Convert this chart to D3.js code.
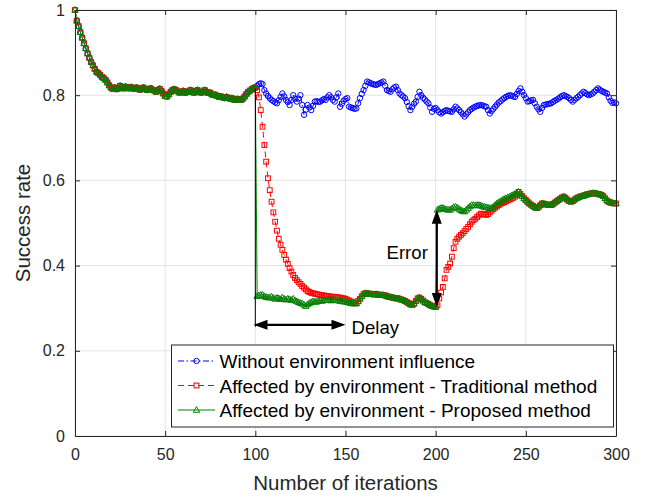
<!DOCTYPE html>
<html>
<head>
<meta charset="utf-8">
<script src="https://cdn.jsdelivr.net/npm/d3@7"></script>
<style>
  html, body { margin: 0; padding: 0; background: #fff; }
  svg { display: block; font-family: "Liberation Sans", Arial, Helvetica, sans-serif; }
</style>
</head>
<body>
<svg id="chart" width="652" height="497"></svg>
<script>
// Success rate over iterations 0..300.
// Iterations 0..100 are shared by all three runs (no disturbance yet).
const sharedStart = [
  1.000, 0.975, 0.962, 0.948, 0.935, 0.922, 0.910, 0.898, 0.888, 0.878,
  0.870, 0.862, 0.855, 0.852, 0.848, 0.843, 0.840, 0.836, 0.830, 0.823,
  0.818, 0.815, 0.818, 0.814, 0.816, 0.822, 0.819, 0.816, 0.820, 0.818,
  0.816, 0.819, 0.817, 0.815, 0.818, 0.816, 0.813, 0.816, 0.818, 0.815,
  0.812, 0.814, 0.816, 0.813, 0.811, 0.808, 0.812, 0.815, 0.810, 0.804,
  0.798, 0.797, 0.802, 0.808, 0.812, 0.814, 0.812, 0.809, 0.806, 0.808,
  0.810, 0.806, 0.807, 0.809, 0.812, 0.808, 0.806, 0.810, 0.812, 0.808,
  0.806, 0.809, 0.812, 0.808, 0.805, 0.806, 0.802, 0.800, 0.801, 0.798,
  0.796, 0.797, 0.795, 0.793, 0.796, 0.794, 0.792, 0.793, 0.790, 0.789,
  0.791, 0.790, 0.789, 0.792, 0.797, 0.803, 0.808, 0.811, 0.814, 0.817,
  0.818
];

// Iterations 101..300, run without environment influence
const withoutEnvTail = [
  0.822, 0.826, 0.828, 0.826, 0.812, 0.804, 0.798, 0.793, 0.789, 0.786,
  0.783, 0.781, 0.788, 0.796, 0.804, 0.797, 0.789, 0.784, 0.777, 0.789,
  0.800, 0.792, 0.785, 0.792, 0.800, 0.777, 0.754, 0.766, 0.777, 0.771,
  0.765, 0.775, 0.785, 0.786, 0.784, 0.785, 0.788, 0.791, 0.789, 0.795,
  0.800, 0.795, 0.789, 0.785, 0.795, 0.804, 0.773, 0.780, 0.787, 0.791,
  0.793, 0.773, 0.771, 0.770, 0.768, 0.769, 0.781, 0.793, 0.803, 0.812,
  0.822, 0.832, 0.830, 0.828, 0.826, 0.825, 0.824, 0.826, 0.828, 0.830,
  0.832, 0.822, 0.812, 0.810, 0.808, 0.814, 0.818, 0.820, 0.812, 0.804,
  0.800, 0.797, 0.793, 0.784, 0.774, 0.765, 0.773, 0.780, 0.785, 0.796,
  0.808, 0.800, 0.794, 0.790, 0.785, 0.781, 0.771, 0.761, 0.768, 0.770,
  0.765, 0.760, 0.757, 0.760, 0.763, 0.765, 0.763, 0.762, 0.761, 0.767,
  0.773, 0.769, 0.765, 0.760, 0.755, 0.750, 0.755, 0.760, 0.765, 0.768,
  0.771, 0.773, 0.775, 0.776, 0.777, 0.776, 0.774, 0.773, 0.765, 0.757,
  0.763, 0.768, 0.773, 0.778, 0.783, 0.786, 0.790, 0.793, 0.796, 0.798,
  0.800, 0.799, 0.797, 0.796, 0.803, 0.810, 0.816, 0.808, 0.800, 0.793,
  0.785, 0.786, 0.788, 0.789, 0.781, 0.773, 0.767, 0.761, 0.770, 0.777,
  0.778, 0.779, 0.780, 0.781, 0.784, 0.787, 0.789, 0.792, 0.795, 0.798,
  0.800, 0.798, 0.796, 0.793, 0.789, 0.785, 0.789, 0.793, 0.796, 0.800,
  0.804, 0.808, 0.805, 0.802, 0.800, 0.802, 0.804, 0.808, 0.812, 0.816,
  0.813, 0.810, 0.808, 0.806, 0.804, 0.795, 0.787, 0.782, 0.783, 0.781
];

// Iterations 101..300, affected by environment, traditional method
const traditionalTail = [
  0.812, 0.795, 0.765, 0.726, 0.683, 0.644, 0.605, 0.577, 0.550, 0.525,
  0.503, 0.482, 0.463, 0.449, 0.437, 0.425, 0.414, 0.404, 0.394, 0.386,
  0.378, 0.371, 0.366, 0.361, 0.357, 0.352, 0.348, 0.344, 0.340, 0.338,
  0.336, 0.335, 0.334, 0.333, 0.332, 0.331, 0.330, 0.330, 0.329, 0.328,
  0.328, 0.327, 0.327, 0.326, 0.326, 0.325, 0.325, 0.324, 0.323, 0.322,
  0.320, 0.318, 0.316, 0.314, 0.313, 0.312, 0.317, 0.322, 0.328, 0.333,
  0.335, 0.335, 0.334, 0.333, 0.333, 0.332, 0.333, 0.332, 0.331, 0.331,
  0.331, 0.330, 0.328, 0.327, 0.326, 0.325, 0.324, 0.323, 0.323, 0.322,
  0.320, 0.319, 0.317, 0.315, 0.312, 0.309, 0.308, 0.311, 0.317, 0.323,
  0.325, 0.322, 0.318, 0.314, 0.312, 0.310, 0.307, 0.305, 0.304, 0.303,
  0.307, 0.323, 0.337, 0.350, 0.370, 0.390, 0.397, 0.405, 0.421, 0.441,
  0.456, 0.463, 0.468, 0.472, 0.476, 0.481, 0.486, 0.491, 0.497, 0.503,
  0.507, 0.510, 0.514, 0.518, 0.522, 0.521, 0.520, 0.519, 0.521, 0.525,
  0.529, 0.533, 0.536, 0.539, 0.542, 0.545, 0.547, 0.549, 0.551, 0.553,
  0.555, 0.557, 0.559, 0.562, 0.566, 0.573, 0.568, 0.563, 0.558, 0.554,
  0.550, 0.546, 0.543, 0.540, 0.537, 0.535, 0.538, 0.542, 0.546, 0.545,
  0.544, 0.543, 0.542, 0.542, 0.545, 0.548, 0.551, 0.554, 0.557, 0.560,
  0.562, 0.559, 0.555, 0.552, 0.550, 0.552, 0.555, 0.558, 0.560, 0.562,
  0.563, 0.564, 0.566, 0.567, 0.568, 0.569, 0.570, 0.570, 0.569, 0.568,
  0.567, 0.566, 0.563, 0.558, 0.553, 0.550, 0.548, 0.547, 0.546, 0.546
];

// Iterations 101..300, affected by environment, proposed method
const proposedTail = [
  0.328, 0.330, 0.331, 0.331, 0.328, 0.326, 0.325, 0.325, 0.327, 0.324,
  0.322, 0.324, 0.323, 0.321, 0.325, 0.322, 0.320, 0.322, 0.321, 0.319,
  0.322, 0.318, 0.316, 0.314, 0.312, 0.311, 0.308, 0.305, 0.309, 0.312,
  0.314, 0.316, 0.315, 0.315, 0.317, 0.318, 0.317, 0.319, 0.319, 0.320,
  0.319, 0.318, 0.319, 0.320, 0.319, 0.318, 0.317, 0.316, 0.316, 0.315,
  0.314, 0.313, 0.312, 0.311, 0.311, 0.311, 0.316, 0.322, 0.328, 0.333,
  0.335, 0.335, 0.334, 0.333, 0.333, 0.332, 0.333, 0.332, 0.331, 0.331,
  0.331, 0.330, 0.328, 0.327, 0.326, 0.325, 0.324, 0.323, 0.323, 0.322,
  0.320, 0.319, 0.317, 0.315, 0.312, 0.309, 0.308, 0.311, 0.317, 0.323,
  0.325, 0.322, 0.318, 0.314, 0.312, 0.310, 0.307, 0.305, 0.304, 0.303,
  0.531, 0.533, 0.535, 0.535, 0.533, 0.532, 0.531, 0.531, 0.534, 0.537,
  0.538, 0.536, 0.533, 0.530, 0.528, 0.527, 0.531, 0.535, 0.539, 0.542,
  0.542, 0.541, 0.542, 0.542, 0.541, 0.539, 0.538, 0.537, 0.536, 0.535,
  0.535, 0.538, 0.542, 0.546, 0.549, 0.551, 0.554, 0.556, 0.558, 0.560,
  0.562, 0.564, 0.566, 0.568, 0.571, 0.573, 0.568, 0.563, 0.558, 0.554,
  0.550, 0.546, 0.543, 0.540, 0.537, 0.535, 0.538, 0.542, 0.546, 0.545,
  0.544, 0.543, 0.542, 0.542, 0.545, 0.548, 0.551, 0.554, 0.557, 0.560,
  0.562, 0.559, 0.555, 0.552, 0.550, 0.552, 0.555, 0.558, 0.560, 0.562,
  0.563, 0.564, 0.566, 0.567, 0.568, 0.569, 0.570, 0.570, 0.569, 0.568,
  0.567, 0.566, 0.563, 0.558, 0.553, 0.550, 0.548, 0.547, 0.546, 0.546
];

const xTicks = [0, 50, 100, 150, 200, 250, 300];
const xTickLabels = ["0", "50", "100", "150", "200", "250", "300"];
const yTicks = [0, 0.2, 0.4, 0.6, 0.8, 1];
const yTickLabels = ["0", "0.2", "0.4", "0.6", "0.8", "1"];

const seriesNames = [
  "Without environment influence",
  "Affected by environment - Traditional method",
  "Affected by environment - Proposed method"
];

// Build the three runs as {x, y} points
const toPoints = vals => vals.map((v, i) => ({ x: i, y: v }));
const series = [
  { name: seriesNames[0], values: toPoints(sharedStart.concat(withoutEnvTail)),
    color: "#0000ff", dash: "6,2.5,1.5,2.5", marker: "circle" },
  { name: seriesNames[1], values: toPoints(sharedStart.concat(traditionalTail)),
    color: "#ff0000", dash: "6,4", marker: "square" },
  { name: seriesNames[2], values: toPoints(sharedStart.concat(proposedTail)),
    color: "#008000", dash: null, marker: "triangle" }
];

const svg = d3.select("#chart");
const axisColor = "#262626";
const plotLeft = 75, plotRight = 616, plotTop = 10, plotBottom = 436;

const x = d3.scaleLinear().domain([0, 300]).range([plotLeft, plotRight]);
const y = d3.scaleLinear().domain([0, 1]).range([plotBottom, plotTop]);

// Grid
const grid = svg.append("g").attr("stroke", "#e3e3e3").attr("stroke-width", 1);
xTicks.forEach(t => grid.append("line")
  .attr("x1", x(t)).attr("x2", x(t)).attr("y1", plotTop).attr("y2", plotBottom));
yTicks.forEach(t => grid.append("line")
  .attr("x1", plotLeft).attr("x2", plotRight).attr("y1", y(t)).attr("y2", y(t)));

// Marker shapes
function drawMarker(g, kind, cx, cy, color) {
  if (kind === "circle") {
    g.append("circle").attr("cx", cx).attr("cy", cy).attr("r", 2.7)
      .attr("fill", "none").attr("stroke", color).attr("stroke-width", 1);
  } else if (kind === "square") {
    g.append("rect").attr("x", cx - 2.4).attr("y", cy - 2.4)
      .attr("width", 4.8).attr("height", 4.8)
      .attr("fill", "none").attr("stroke", color).attr("stroke-width", 1);
  } else {
    g.append("path")
      .attr("d", `M${cx},${cy - 3.4} L${cx + 3.2},${cy + 2.3} L${cx - 3.2},${cy + 2.3} Z`)
      .attr("fill", "none").attr("stroke", color).attr("stroke-width", 1);
  }
}

const line = d3.line().x(d => x(d.x)).y(d => y(d.y));

const plot = svg.append("g");
series.forEach(s => {
  const g = plot.append("g");
  g.append("path").datum(s.values)
    .attr("d", line)
    .attr("fill", "none")
    .attr("stroke", s.color)
    .attr("stroke-width", 1)
    .attr("stroke-dasharray", s.dash);
  s.values.forEach(d => drawMarker(g, s.marker, x(d.x), y(d.y), s.color));
});

// Annotations: delay and error arrows
const ann = svg.append("g");
const delayY = 0.261;
ann.append("line")
  .attr("x1", x(100)).attr("x2", x(100))
  .attr("y1", y(0.815)).attr("y2", y(delayY) + 2)
  .attr("stroke", "#000").attr("stroke-width", 1);

function doubleArrow(x1, y1, x2, y2) {
  const len = 14, half = 5;
  const dx = x2 - x1, dy = y2 - y1, L = Math.hypot(dx, dy);
  const ux = dx / L, uy = dy / L, px = -uy, py = ux;
  ann.append("line")
    .attr("x1", x1 + ux * len * 0.8).attr("y1", y1 + uy * len * 0.8)
    .attr("x2", x2 - ux * len * 0.8).attr("y2", y2 - uy * len * 0.8)
    .attr("stroke", "#000").attr("stroke-width", 2.2);
  const head = (tx, ty, sx, sy) => {
    const bx = tx - sx * len, by = ty - sy * len;
    ann.append("path")
      .attr("d", `M${tx},${ty} L${bx + px * half},${by + py * half} L${bx - px * half},${by - py * half} Z`)
      .attr("fill", "#000");
  };
  head(x2, y2, ux, uy);
  head(x1, y1, -ux, -uy);
}
doubleArrow(x(99), y(delayY), x(150), y(delayY));
doubleArrow(x(200.6), y(0.531), x(200.6), y(0.303));

ann.append("text").attr("x", 351.5).attr("y", 334)
  .attr("font-size", 18.6).attr("fill", "#000").text("Delay");
ann.append("text").attr("x", 386.5).attr("y", 259)
  .attr("font-size", 18.6).attr("fill", "#000").text("Error");

// Axes box with inward ticks on all sides
const axes = svg.append("g");
const xAxisB = d3.axisBottom(x).tickValues(xTicks)
  .tickFormat((d, i) => xTickLabels[i]).tickSizeInner(-5).tickSizeOuter(0).tickPadding(13);
const xAxisT = d3.axisTop(x).tickValues(xTicks)
  .tickFormat("").tickSizeInner(-5).tickSizeOuter(0);
const yAxisL = d3.axisLeft(y).tickValues(yTicks)
  .tickFormat((d, i) => yTickLabels[i]).tickSizeInner(-5).tickSizeOuter(0).tickPadding(10);
const yAxisR = d3.axisRight(y).tickValues(yTicks)
  .tickFormat("").tickSizeInner(-5).tickSizeOuter(0);

function styleAxis(g) {
  g.selectAll("path, line").attr("stroke", axisColor).attr("stroke-width", 1);
  g.selectAll("text").attr("fill", axisColor).attr("font-size", 16)
    .attr("font-family", "Liberation Sans, Arial, sans-serif");
}
axes.append("g").attr("transform", `translate(0,${plotBottom})`).call(xAxisB).call(styleAxis);
axes.append("g").attr("transform", `translate(0,${plotTop})`).call(xAxisT).call(styleAxis);
axes.append("g").attr("transform", `translate(${plotLeft},0)`).call(yAxisL).call(styleAxis);
axes.append("g").attr("transform", `translate(${plotRight},0)`).call(yAxisR).call(styleAxis);

// Axis titles
svg.append("text").attr("x", (plotLeft + plotRight) / 2).attr("y", 490)
  .attr("text-anchor", "middle").attr("font-size", 20.5).attr("fill", axisColor)
  .text("Number of iterations");
svg.append("text").attr("transform", `translate(30,${(plotTop + plotBottom) / 2}) rotate(-90)`)
  .attr("text-anchor", "middle").attr("font-size", 20.5).attr("fill", axisColor)
  .text("Success rate");

// Legend
const legend = svg.append("g");
legend.append("rect").attr("x", 171.5).attr("y", 345).attr("width", 442).attr("height", 82)
  .attr("fill", "#fff").attr("stroke", axisColor).attr("stroke-width", 1);
const rowY = [361, 385.5, 410];
series.forEach((s, i) => {
  const g = legend.append("g");
  g.append("line").attr("x1", 178).attr("x2", 215).attr("y1", rowY[i]).attr("y2", rowY[i])
    .attr("stroke", s.color).attr("stroke-width", 1).attr("stroke-dasharray", s.dash);
  drawMarker(g, s.marker, 196.5, rowY[i], s.color);
  g.append("text").attr("x", 219.5).attr("y", rowY[i] + 7.3)
    .attr("font-size", 19).attr("fill", "#000").text(s.name);
});
</script>
</body>
</html>
